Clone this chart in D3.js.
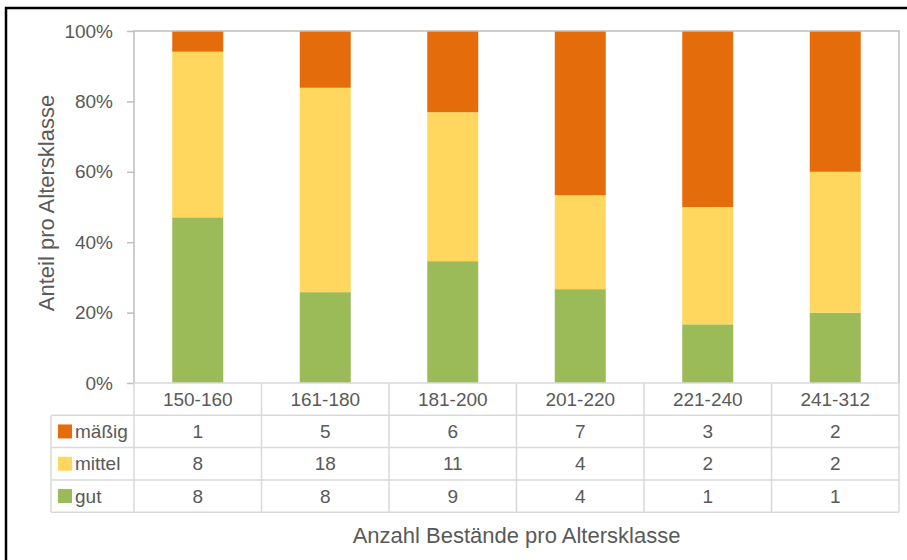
<!DOCTYPE html>
<html>
<head>
<meta charset="utf-8">
<script src="https://cdn.jsdelivr.net/npm/d3@7"></script>
<style>
  body { margin: 0; background: #fff; }
  svg { display: block; font-family: "Liberation Sans", Arial, sans-serif; }
</style>
</head>
<body>
<div id="app"></div>
<script>
const categories = ['150-160', '161-180', '181-200', '201-220', '221-240', '241-312'];
const gut = [8, 8, 9, 4, 1, 1];
const mittel = [8, 18, 11, 4, 2, 2];
const maessig = [1, 5, 6, 7, 3, 2];
const seriesNames = ['gut', 'mittel', 'mäßig'];
const seriesColors = ['#9BBB59', '#FFD75E', '#E46C0A'];
const yTicks = [0, 0.2, 0.4, 0.6, 0.8, 1];

const width = 907;
const height = 560;
const plot = { left: 134, right: 899, top: 31, bottom: 383 };
const rowH = 32.3;
const labelLeft = 51;
const textColor = '#595959';
const fontSize = '19px';

const rows = categories.map((c, i) => ({ cat: c, gut: gut[i], mittel: mittel[i], 'mäßig': maessig[i] }));

const stack = d3.stack().keys(seriesNames).offset(d3.stackOffsetExpand);
const stacked = stack(rows);

const x = d3.scaleBand().domain(categories).range([plot.left, plot.right]).paddingInner(0).paddingOuter(0);
const y = d3.scaleLinear().domain([0, 1]).range([plot.bottom, plot.top]);
const color = d3.scaleOrdinal().domain(seriesNames).range(seriesColors);

const svg = d3.select('#app').append('svg')
    .attr('width', width)
    .attr('height', height);

// outer frame (chart is cropped at right and bottom)
svg.append('rect')
    .attr('x', 6).attr('y', 8)
    .attr('width', width + 10).attr('height', height + 10)
    .attr('fill', '#fff')
    .attr('stroke', '#000')
    .attr('stroke-width', 2.5);

// bars
const barW = x.bandwidth() * 0.4;
svg.append('g')
  .selectAll('g')
  .data(stacked)
  .enter().append('g')
    .attr('fill', d => color(d.key))
  .selectAll('rect')
  .data(d => d)
  .enter().append('rect')
    .attr('x', d => x(d.data.cat) + (x.bandwidth() - barW) / 2)
    .attr('width', barW)
    .attr('y', d => y(d[1]))
    .attr('height', d => y(d[0]) - y(d[1]));

// plot border
const gridColor = '#bfbfbf';
svg.append('path')
    .attr('d', `M${plot.left},${plot.bottom}V${plot.top}H${plot.right}V${plot.bottom}`)
    .attr('fill', 'none')
    .attr('stroke', gridColor)
    .attr('stroke-width', 1.5);

// y axis
const yAxis = svg.append('g')
    .attr('transform', `translate(${plot.left},0)`)
    .call(d3.axisLeft(y).tickValues(yTicks).tickFormat(d3.format('.0%')).tickSize(7).tickPadding(14));
yAxis.select('.domain').remove();
yAxis.selectAll('line').attr('stroke', gridColor).attr('stroke-width', 1.5);
yAxis.selectAll('text')
    .attr('fill', textColor)
    .style('font-size', fontSize)
    .style('font-family', '"Liberation Sans", Arial, sans-serif');

// y axis title
svg.append('text')
    .attr('transform', `translate(54,${(plot.top + plot.bottom) / 2 - 4}) rotate(-90)`)
    .attr('text-anchor', 'middle')
    .attr('fill', textColor)
    .style('font-size', '22px')
    .text('Anteil pro Altersklasse');

// data table
const tableColor = '#d9d9d9';
const table = svg.append('g').attr('stroke', tableColor).attr('stroke-width', 1.5);
const tableBottom = plot.bottom + rowH * 4;

table.append('line')
    .attr('x1', plot.left).attr('x2', plot.right)
    .attr('y1', plot.bottom).attr('y2', plot.bottom);
[1, 2, 3, 4].forEach(r => {
    table.append('line')
        .attr('x1', labelLeft).attr('x2', plot.right)
        .attr('y1', plot.bottom + r * rowH).attr('y2', plot.bottom + r * rowH);
});
table.append('line')
    .attr('x1', labelLeft).attr('x2', labelLeft)
    .attr('y1', plot.bottom + rowH).attr('y2', tableBottom);
categories.concat(['end']).forEach((c, i) => {
    const xx = i < categories.length ? x(c) : plot.right;
    table.append('line')
        .attr('x1', xx).attr('x2', xx)
        .attr('y1', plot.bottom).attr('y2', tableBottom);
});

// header row
svg.append('g')
  .selectAll('text')
  .data(categories)
  .enter().append('text')
    .attr('x', d => x(d) + x.bandwidth() / 2)
    .attr('y', plot.bottom + rowH / 2)
    .attr('dy', '0.35em')
    .attr('text-anchor', 'middle')
    .attr('fill', textColor)
    .style('font-size', fontSize)
    .text(d => d);

// series rows, top to bottom: mäßig, mittel, gut
const tableRows = [
    { name: 'mäßig', values: maessig },
    { name: 'mittel', values: mittel },
    { name: 'gut', values: gut },
];

tableRows.forEach((row, r) => {
    const cy = plot.bottom + rowH * (r + 1) + rowH / 2;
    svg.append('rect')
        .attr('x', 58).attr('y', cy - 7)
        .attr('width', 14).attr('height', 14)
        .attr('fill', color(row.name));
    svg.append('text')
        .attr('x', 75).attr('y', cy)
        .attr('dy', '0.35em')
        .attr('fill', textColor)
        .style('font-size', fontSize)
        .text(row.name);
    svg.append('g')
      .selectAll('text')
      .data(row.values)
      .enter().append('text')
        .attr('x', (d, i) => x(categories[i]) + x.bandwidth() / 2)
        .attr('y', cy)
        .attr('dy', '0.35em')
        .attr('text-anchor', 'middle')
        .attr('fill', textColor)
        .style('font-size', fontSize)
        .text(d => d);
});

// x axis title
svg.append('text')
    .attr('x', (plot.left + plot.right) / 2)
    .attr('y', 543)
    .attr('text-anchor', 'middle')
    .attr('fill', textColor)
    .style('font-size', '22px')
    .text('Anzahl Bestände pro Altersklasse');
</script>
</body>
</html>
